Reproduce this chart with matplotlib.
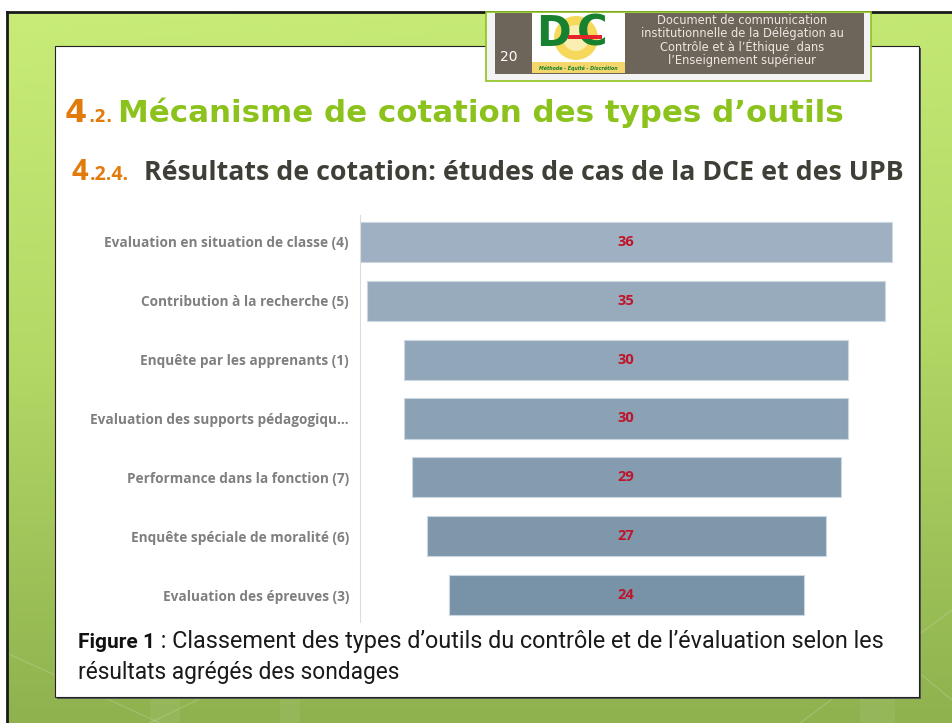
import numpy as np
import matplotlib
matplotlib.use('Agg')
import matplotlib.pyplot as plt
from matplotlib.patches import Rectangle, Circle
from matplotlib.colors import LinearSegmentedColormap

# ─── DATA ──────────────────────────────────────────────────────────────────────
categories = [
    "Evaluation en situation de classe (4)",
    "Contribution à la recherche (5)",
    "Enquête par les apprenants (1)",
    "Evaluation des supports pédagogiqu...",
    "Performance dans la fonction (7)",
    "Enquête spéciale de moralité (6)",
    "Evaluation des épreuves (3)",
]
scores = [36, 35, 30, 30, 29, 27, 24]

page_number = "20"
header_lines = [
    "Document de communication",
    "institutionnelle de la Délégation au",
    "Contrôle et à l’Éthique  dans",
    "l’Enseignement supérieur",
]
title_parts = ["4", ".2.", "Mécanisme de cotation des types d’outils"]
subtitle_parts = ["4", ".2.4.", "Résultats de cotation: études de cas de la DCE et des UPB"]
caption_bold = "Figure 1"
caption_line1 = " : Classement des types d’outils du contrôle et de l’évaluation selon les"
caption_line2 = "résultats agrégés des sondages"
logo_motto = "Méthode - Équité - Discrétion"

# ─── COLOURS ───────────────────────────────────────────────────────────────────
ORANGE = "#e07b0c"
GREEN = "#8cc21c"
DARK = "#3f3f37"
TAUPE = "#6d655a"
LOGO_GREEN = "#17812f"
W, H = 952, 723

fig = plt.figure(figsize=(W / 100, H / 100), dpi=100)
bg = fig.add_axes([0, 0, 1, 1])
bg.set_xlim(0, W)
bg.set_ylim(H, 0)
bg.axis('off')
renderer = fig.canvas.get_renderer()


def put(x, y, s, target=None, **kw):
    """Place text at pixel coords; optionally rescale font to a target width."""
    t = bg.text(x, y, s, **kw)
    if target is not None:
        w = t.get_window_extent(renderer).width
        t.set_fontsize(t.get_fontsize() * target / w)
    return t, x + t.get_window_extent(renderer).width


# ─── SLIDE BACKGROUND ──────────────────────────────────────────────────────────
yy, xx = np.mgrid[0:1:200j, 0:1:200j]
grad = np.clip(yy * 0.9 + 0.1 * xx * (1 - yy), 0, 1)
green_cmap = LinearSegmentedColormap.from_list("g", ["#c9ec78", "#b3d865", "#8fb24f"])
bg.imshow(grad, cmap=green_cmap, extent=[7, W, H, 12], aspect='auto', zorder=0)
for x0, x1 in [(150, 180), (860, 895), (280, 300)]:
    bg.add_patch(Rectangle((x0, 600), x1 - x0, 123, color="white", alpha=0.06, lw=0, zorder=1))
for (xa, ya), (xb, yb) in [((0, 650), (160, 723)), ((150, 723), (320, 640)),
                           ((880, 640), (952, 700)), ((800, 723), (952, 610))]:
    bg.plot([xa, xb], [ya, yb], color="white", alpha=0.15, lw=1, zorder=1)
bg.plot([7, W], [12, 12], color="#1a1a1a", lw=2, zorder=2)
bg.plot([7, 7], [12, H], color="#1a1a1a", lw=2, zorder=2)

# white panel
bg.add_patch(Rectangle((57, 48), 864, 651, color="#555555", lw=0, zorder=2))
bg.add_patch(Rectangle((55, 46), 864, 651, facecolor="white", edgecolor="#222222",
                       lw=0.8, zorder=3))

# ─── HEADER BOX ────────────────────────────────────────────────────────────────
bg.add_patch(Rectangle((486, 12), 385, 69, facecolor="#f3f3f3", edgecolor=GREEN,
                       lw=1.2, zorder=4))
bg.add_patch(Rectangle((495, 13), 369, 61, facecolor=TAUPE, lw=0, zorder=5))
put(509, 57, page_number, color="white", fontsize=10, ha='center', va='center',
    family="DejaVu Sans", zorder=6)

# logo
bg.add_patch(Rectangle((532, 13), 93, 60, facecolor="white", lw=0, zorder=6))
bg.add_patch(Circle((576, 38), 22, facecolor="#f6d85a", lw=0, zorder=6))
bg.add_patch(Circle((576, 38), 13, facecolor="#fbeeb3", lw=0, zorder=6))
bg.add_patch(Rectangle((532, 62), 93, 11, facecolor="#f4d66c", lw=0, zorder=6))
put(536, 13, "D", color=LOGO_GREEN, fontsize=30, fontweight='bold', va='top',
    family="DejaVu Sans", zorder=7)
put(577, 13, "C", color=LOGO_GREEN, fontsize=30, fontweight='bold', va='top',
    family="DejaVu Sans", zorder=7)
bg.add_patch(Rectangle((568, 35), 34, 4, facecolor="#e5252a", lw=0, zorder=8))
put(578, 67.5, logo_motto, color=LOGO_GREEN, fontsize=3.4, style='italic', fontweight='bold',
    ha='center', va='center', family="DejaVu Sans", zorder=8)

for i, line in enumerate(header_lines):
    put(742, 20 + i * 13.6, line, color="#ece8e1", fontsize=8.3, ha='center',
        va='center', family="DejaVu Sans", zorder=6)

# ─── TITLES ────────────────────────────────────────────────────────────────────
_, x = put(65, 122, title_parts[0], color=ORANGE, fontsize=23, fontweight='bold',
           va='baseline', family="DejaVu Sans", zorder=6)
put(x + 1, 122, title_parts[1], color=ORANGE, fontsize=12, fontweight='bold',
    va='baseline', family="DejaVu Sans", zorder=6)
put(118, 122, title_parts[2], target=725, color=GREEN, fontsize=26, fontweight='bold',
    va='baseline', family="DejaVu Sans", zorder=6)

_, x = put(72, 180, subtitle_parts[0], color=ORANGE, fontsize=21, fontweight='bold',
           va='baseline', family="Open Sans", zorder=6)
put(x + 1, 180, subtitle_parts[1], color=ORANGE, fontsize=14, fontweight='bold',
    va='baseline', family="Open Sans", zorder=6)
put(144, 180, subtitle_parts[2], target=756, color=DARK, fontsize=17, fontweight='bold',
    va='baseline', family="Open Sans", zorder=6)

# ─── FUNNEL CHART ──────────────────────────────────────────────────────────────
n = len(scores)
ax = fig.add_axes([360 / W, 1 - 624.5 / H, 533 / W, 412 / H])
ax.set_zorder(6)
ax.patch.set_alpha(0)
bar_cmap = LinearSegmentedColormap.from_list("b", ["#9eb0c1", "#7892a7"])
bar_colors = bar_cmap(np.linspace(0, 1, n))
ypos = np.arange(n)
ax.barh(ypos, scores, left=[-s / 2 for s in scores], height=0.68,
        color=bar_colors, edgecolor="#cbd8e2", linewidth=0.8)
for i, s in enumerate(scores):
    ax.text(0, i, str(s), ha='center', va='center', color="#c0142a",
            fontsize=10.5, fontweight='bold', family="Open Sans")
ax.set_xlim(-18, 18.05)
ax.set_ylim(n - 0.5, -0.5)
ax.set_xticks([])
ax.set_yticks(ypos, categories)
ax.tick_params(axis='y', length=0, pad=8, labelsize=9.8, labelcolor="#7f7f7f")
for lbl in ax.get_yticklabels():
    lbl.set_fontweight('bold')
    lbl.set_family("Open Sans")
for side in ['top', 'right', 'bottom']:
    ax.spines[side].set_visible(False)
ax.spines['left'].set_color("#dcdcdc")
ax.spines['left'].set_bounds(n - 0.55, -0.45)

# ─── CAPTION ───────────────────────────────────────────────────────────────────
cap_font = ["Roboto", "DejaVu Sans"]
_, x = put(78, 648, caption_bold, color="#111111", fontsize=15, fontweight='bold',
           va='baseline', family=cap_font, zorder=6)
put(x, 648, caption_line1, target=888 - x, color="#1a1a1a", fontsize=14,
    va='baseline', family=cap_font, zorder=6)
put(78, 679, caption_line2, target=322, color="#1a1a1a", fontsize=14.5,
    va='baseline', family=cap_font, zorder=6)

plt.savefig("out.png", dpi=100)
plt.close()
